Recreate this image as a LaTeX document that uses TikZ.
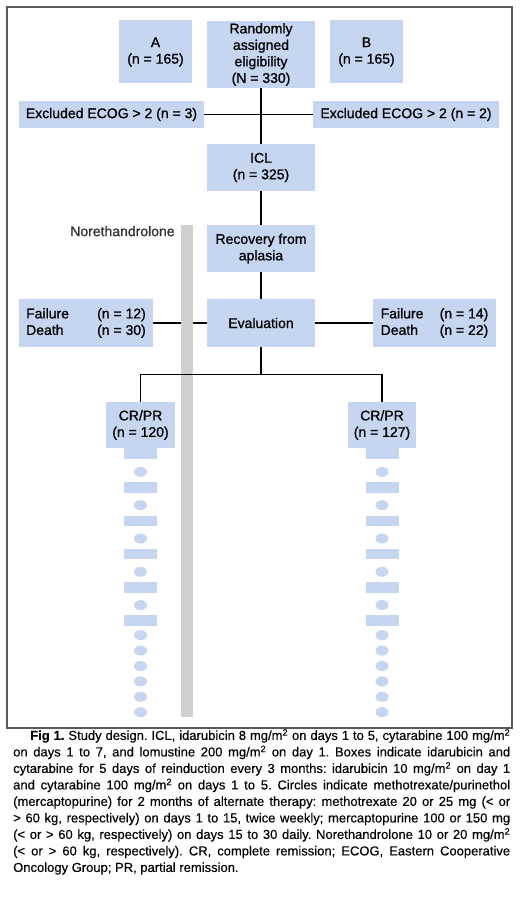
\documentclass[tikz,border=0pt]{standalone}
\usepackage{fontspec}
\setmainfont{Liberation Sans}
\newfontfamily\boxfont{Liberation Sans}[FakeBold=0.9]
\newfontfamily\capfont{Liberation Sans}[FakeBold=0.3]
\usetikzlibrary{positioning,calc}
\definecolor{boxblue}{RGB}{199,214,240}
\definecolor{bargray}{RGB}{207,207,207}

\begin{document}
\begin{tikzpicture}[
x=1pt, y=-1pt,
flow/.style={fill=boxblue, inner sep=0pt, align=center, font=\boxfont\fontsize{14}{16.5}\selectfont},
link/.style={line width=1.8pt},
dose/.style={fill=boxblue}
]
\useasboundingbox (0,0) rectangle (523,917);
\draw[black!65, line width=1.3pt] (7,7) rectangle (512,728);

\node[flow, minimum width=73, minimum height=63] (armA) at (155.5,52) {A\\(n = 165)};
\node[flow, minimum width=108, minimum height=67] (rand) at (261,54.5) {Randomly\\assigned\\eligibility\\(N = 330)};
\node[flow, minimum width=73, minimum height=63] (armB) at (366.5,52) {B\\(n = 165)};
\node[flow, minimum width=185, minimum height=27] (exl) at (111.5,114.5) {Excluded ECOG > 2 (n = 3)};
\node[flow, minimum width=186, minimum height=27] (exr) at (406,114.5) {Excluded ECOG > 2 (n = 2)};
\node[flow, minimum width=108, minimum height=47] (icl) at (261,167.5) {ICL\\(n = 325)};
\node[flow, minimum width=108, minimum height=47] (rec) at (261,248.5) {Recovery from\\aplasia};
\node[flow, minimum width=108, minimum height=48] (eval) at (261,323) {Evaluation};
\node[flow, align=left, minimum width=134, minimum height=48] (fl) at (86,323)
  {\makebox[71pt][l]{Failure}(n = 12)\\\makebox[71pt][l]{Death}(n = 30)};
\node[flow, align=left, minimum width=123, minimum height=48] (fr) at (434.5,323)
  {\makebox[59pt][l]{Failure}(n = 14)\\\makebox[59pt][l]{Death}(n = 22)};
\node[flow, minimum width=69, minimum height=46] (crl) at (140.5,425) {CR/PR\\(n = 120)};
\node[flow, minimum width=68, minimum height=46] (crr) at (382,425) {CR/PR\\(n = 127)};
\coordinate (split) at (261,374.5);

\draw[link] (rand) -- (icl);
\draw[link] (exl) -- (exr);
\draw[link] (icl) -- (rec);
\draw[link] (rec) -- (eval);
\draw[link] (eval) -- (fl);
\draw[link] (eval) -- (fr);

% norethandrolone bar
\node[fill=bargray, inner sep=0pt, minimum width=12, minimum height=492] (bar) at (187,471) {};
\node[inner sep=0pt, text=black!80, font=\boxfont\fontsize{14}{16.5}\selectfont, below left=1pt and 6pt of bar.north west] (noreth) {Norethandrolone};

\draw[link] (eval) -- (split);
\draw[link] (split) -| (crl);
\draw[link] (split) -| (crr);

% reinduction boxes and maintenance circles
\foreach \col in {crl,crr}{
  \fill[dose] ($(\col.south)+(-16.5,0)$) rectangle ++(33,11);
  \foreach \k in {0,...,4}{
    \fill[dose] ($(\col.south)+(0,23.7+33.3*\k)$) ellipse (6.5 and 5);
    \fill[dose] ($(\col.south)+(-16.5,34+33.3*\k)$) rectangle ++(33,10.6);
  }
  \foreach \k in {0,...,5}
    \fill[dose] ($(\col.south)+(0,187+15.4*\k)$) ellipse (6.5 and 5);
}

\node[anchor=north west, inner sep=0pt, text width=497pt, align=justify, font=\capfont\fontsize{13}{16.5}\selectfont\frenchspacing] (caption) at (13,729)
{\hspace*{17pt}\textbf{Fig 1.} Study design. ICL, idarubicin 8 mg/m\textsuperscript{2} on days 1 to 5, cytarabine 100 mg/m\textsuperscript{2}\linebreak
on days 1 to 7, and lomustine 200 mg/m\textsuperscript{2} on day 1. Boxes indicate idarubicin and\linebreak
cytarabine for 5 days of reinduction every 3 months: idarubicin 10 mg/m\textsuperscript{2} on day 1\linebreak
and cytarabine 100 mg/m\textsuperscript{2} on days 1 to 5. Circles indicate methotrexate/purinethol\linebreak
(mercaptopurine) for 2 months of alternate therapy: methotrexate 20 or 25 mg (< or\linebreak
> 60 kg, respectively) on days 1 to 15, twice weekly; mercaptopurine 100 or 150 mg\linebreak
(< or > 60 kg, respectively) on days 15 to 30 daily. Norethandrolone 10 or 20 mg/m\textsuperscript{2}\linebreak
(< or > 60 kg, respectively). CR, complete remission; ECOG, Eastern Cooperative\linebreak
Oncology Group; PR, partial remission.};
\end{tikzpicture}
\end{document}
